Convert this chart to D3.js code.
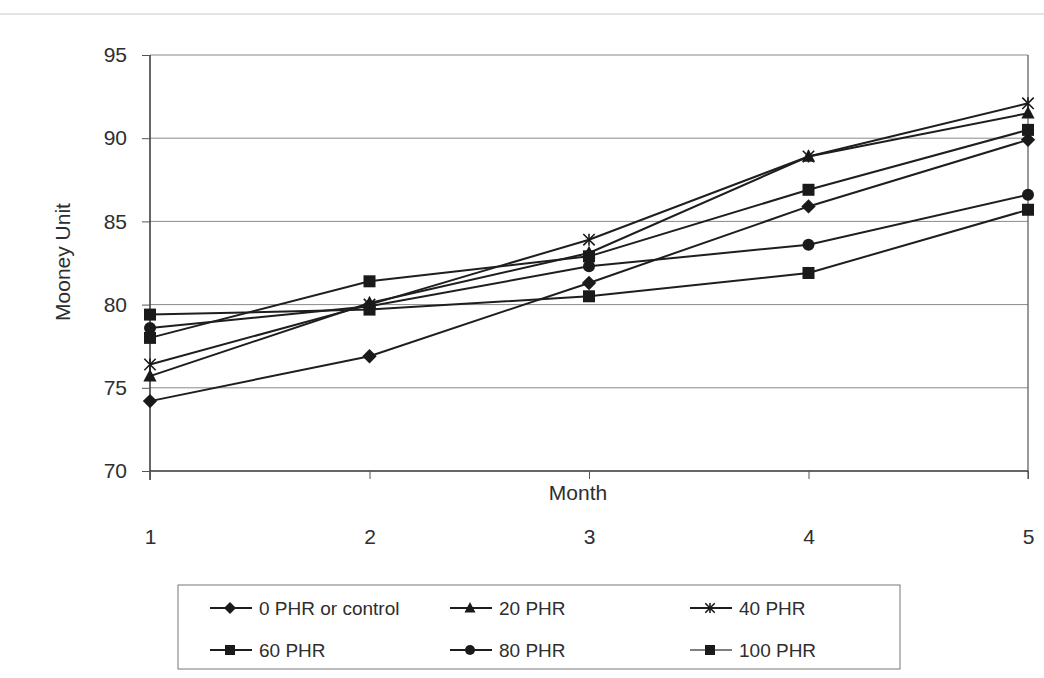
<!DOCTYPE html>
<html lang="en">
<head>
  <meta charset="UTF-8">
  <title>Mooney Unit by Month</title>
  <script src="https://d3js.org/d3.v7.min.js"></script>
  <style>
    body { margin: 0; background: #fff; }
    svg { font-family: "Liberation Sans", Arial, sans-serif; }
    .grid line { stroke: #8a8a8a; stroke-width: 1px; }
    .series { fill: none; stroke: #1e1e1e; stroke-width: 2px; }
    .lbl { fill: #2e2e2e; }
  </style>
</head>
<body>
  <svg width="1044" height="678"></svg>

  <script>
    // data
    const months = [1, 2, 3, 4, 5];
    const seriesNames = ["0 PHR or control", "20 PHR", "40 PHR", "60 PHR", "80 PHR", "100 PHR"];
    const phr0   = [74.2, 76.9, 81.3, 85.9, 89.9];
    const phr20  = [75.7, 80.1, 83.1, 88.9, 91.5];
    const phr40  = [76.4, 80.0, 83.9, 88.9, 92.1];
    const phr60  = [78.0, 81.4, 82.9, 86.9, 90.5];
    const phr80  = [78.6, 79.9, 82.3, 83.6, 86.6];
    const phr100 = [79.4, 79.7, 80.5, 81.9, 85.7];
    const yTicks = [70, 75, 80, 85, 90, 95];

    const allValues = [phr0, phr20, phr40, phr60, phr80, phr100];
    const markers = ["diamond", "triangle", "star", "square", "circle", "square"];

    const svg = d3.select("svg");

    const x = d3.scaleLinear().domain([1, 5]).range([150, 1028]);
    const y = d3.scaleLinear().domain([70, 95]).range([471, 55]);

    // faint scan edge at the top
    svg.append("line")
      .attr("x1", 0).attr("x2", 1044).attr("y1", 14).attr("y2", 14)
      .attr("stroke", "#c8c8c8").attr("stroke-width", 1);

    // horizontal grid
    svg.append("g")
      .attr("class", "grid")
      .selectAll("line")
      .data(yTicks.filter(d => d > 70))
      .enter().append("line")
      .attr("x1", x(1)).attr("x2", x(5))
      .attr("y1", d => y(d)).attr("y2", d => y(d));

    // right frame edge
    svg.append("line")
      .attr("x1", x(5)).attr("x2", x(5))
      .attr("y1", y(95)).attr("y2", y(70) + 8)
      .attr("stroke", "#555").attr("stroke-width", 1.2);

    // y axis
    const yAxis = svg.append("g")
      .attr("transform", `translate(${x(1)},0)`)
      .call(d3.axisLeft(y).tickValues(yTicks).tickSize(8).tickPadding(15));
    yAxis.select(".domain").attr("stroke", "#333").attr("stroke-width", 1.5)
      .attr("d", `M0,${y(95)}V${y(70) + 9}`);
    yAxis.selectAll(".tick line").attr("stroke", "#555");
    yAxis.selectAll(".tick text")
      .attr("fill", "#2e2e2e").style("font-size", "21px")
      .style("font-family", "Liberation Sans, Arial, sans-serif");

    // x axis: ticks on the axis, labels drawn further down
    const xAxis = svg.append("g")
      .attr("transform", `translate(0,${y(70)})`)
      .call(d3.axisBottom(x).tickValues(months).tickSize(8).tickPadding(50).tickFormat(d3.format("d")));
    xAxis.select(".domain").attr("stroke", "#333").attr("stroke-width", 1.5)
      .attr("d", `M${x(1)},0H${x(5)}`);
    xAxis.selectAll(".tick line").attr("stroke", "#555");
    xAxis.selectAll(".tick text")
      .attr("fill", "#2e2e2e").style("font-size", "21px")
      .style("font-family", "Liberation Sans, Arial, sans-serif");

    // axis titles
    svg.append("text")
      .attr("class", "lbl")
      .attr("x", 578).attr("y", 500)
      .attr("text-anchor", "middle")
      .style("font-size", "21px")
      .text("Month");

    svg.append("text")
      .attr("class", "lbl")
      .attr("transform", "translate(70,262) rotate(-90)")
      .attr("text-anchor", "middle")
      .style("font-size", "21px")
      .text("Mooney Unit");

    function drawMarker(g, type, size) {
      const s = size;
      const c = "#1a1a1a";
      if (type === "diamond") {
        const h = s * 0.6;
        g.append("path").attr("d", `M0,${-h}L${h},0L0,${h}L${-h},0Z`).attr("fill", c);
      } else if (type === "triangle") {
        const h = s * 0.55;
        g.append("path").attr("d", `M0,${-h * 1.1}L${h},${h * 0.8}L${-h},${h * 0.8}Z`).attr("fill", c);
      } else if (type === "square") {
        g.append("rect").attr("x", -s / 2).attr("y", -s / 2).attr("width", s).attr("height", s).attr("fill", c);
      } else if (type === "circle") {
        g.append("circle").attr("r", s / 2).attr("fill", c);
      } else if (type === "star") {
        g.append("path").attr("d", d3.symbol(d3.symbolTimes, s * s * 0.6)())
          .attr("fill", "none").attr("stroke", c).attr("stroke-width", 1.6);
        g.append("line").attr("x1", 0).attr("x2", 0).attr("y1", -s / 2).attr("y2", s / 2)
          .attr("stroke", c).attr("stroke-width", 1.6);
      }
    }

    const line = d3.line()
      .x((d, i) => x(months[i]))
      .y(d => y(d));

    // series lines
    svg.append("g")
      .selectAll("path")
      .data(allValues)
      .enter().append("path")
      .attr("class", "series")
      .attr("d", d => line(d));

    // markers
    allValues.forEach((vals, k) => {
      vals.forEach((v, i) => {
        const g = svg.append("g").attr("transform", `translate(${x(months[i])},${y(v)})`);
        drawMarker(g, markers[k], 12);
      });
    });

    // legend
    const legend = svg.append("g");
    legend.append("rect")
      .attr("x", 178).attr("y", 585).attr("width", 722).attr("height", 84)
      .attr("fill", "#fff").attr("stroke", "#777").attr("stroke-width", 1);

    const colX = [210, 450, 690];
    const rowY = [608, 650];
    seriesNames.forEach((name, k) => {
      const col = k % 3, row = Math.floor(k / 3);
      const lx = colX[col], ly = rowY[row];
      const it = legend.append("g").attr("transform", `translate(${lx},${ly})`);
      it.append("line").attr("x1", 0).attr("x2", 42).attr("y1", 0).attr("y2", 0)
        .attr("stroke", k === 5 ? "#555" : "#1e1e1e").attr("stroke-width", k === 5 ? 1.3 : 2);
      const mg = it.append("g").attr("transform", "translate(20,0)");
      drawMarker(mg, markers[k], 10);
      it.append("text")
        .attr("class", "lbl")
        .attr("x", 49).attr("y", 7)
        .style("font-size", "19px")
        .text(name);
    });
  </script>
</body>
</html>
